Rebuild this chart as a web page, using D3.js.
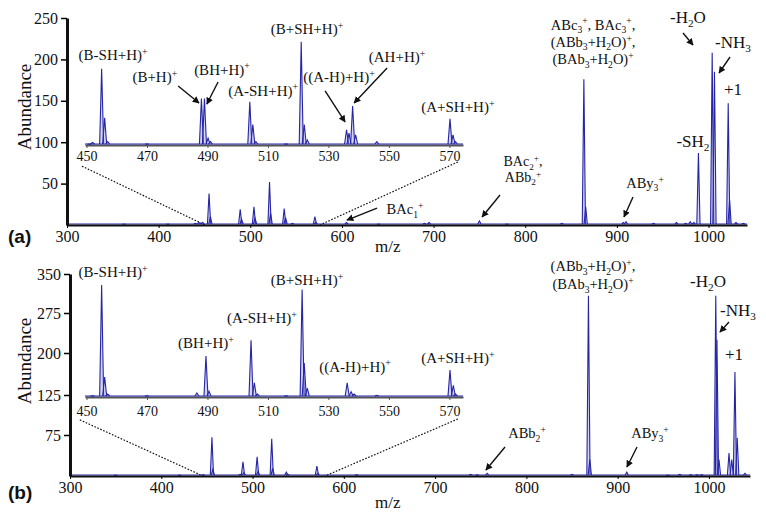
<!DOCTYPE html>
<html>
<head>
<meta charset="utf-8">
<script src="https://cdn.jsdelivr.net/npm/d3@7"></script>
<style>
  body { margin: 0; background: #fff; }
  svg text { font-family: "Liberation Serif", "DejaVu Serif", "Times New Roman", Times, serif; fill: #111; }
  svg text.tag { font-family: "Liberation Sans", Arial, sans-serif; font-weight: bold; }
</style>
</head>
<body>
<svg id="chart" width="766" height="517"></svg>
<script>
// ---------- data ----------
const xTicks = [300, 400, 500, 600, 700, 800, 900, 1000];
const insetTicks = [450, 470, 490, 510, 530, 550, 570];
const yTicksA = [50, 100, 150, 200, 250];
const yTicksB = [75, 125, 200, 275, 350];

// (a) full spectrum peaks: m/z, abundance
const mzA = [362, 410, 440, 444, 448, 455, 456.5, 489, 490.5, 504, 505.2, 521, 522.2, 537, 538.5, 546,
  570.5, 571.5, 605, 640, 690, 695, 750, 780, 840, 864, 866, 907, 910, 940, 965, 975, 980, 984,
  989, 1004, 1006.5, 1021.5, 1023, 1030, 1038];
const abA = [1, 1, 2, 3, 3, 38, 10, 19, 7, 22, 8, 52, 14, 20, 9, 2,
  10, 3, 3, 1, 2, 3, 5, 1, 2, 176, 22, 3, 4, 2, 3, 2, 4, 3,
  87, 208, 185, 147, 30, 3, 2];

// (a) inset 450-575
const insetMzA = [451, 452, 455, 456, 457, 470, 488, 489, 490.2, 491, 504, 505, 506, 516, 521, 522, 523,
  536, 536.8, 538, 539, 546, 570.2, 571.2, 572];
const insetAbA = [101, 103, 190, 132, 104, 101, 155, 155, 108, 104, 151, 124, 104, 101, 222, 124, 106,
  118, 114, 146, 112, 104, 131, 112, 104];

// (b) full spectrum peaks
const mzB = [350, 420, 446, 455.5, 456.5, 486.5, 489.5, 490.5, 505, 506, 521, 522, 537, 538.5, 570.5, 571.5,
  614, 739, 746, 757, 850, 868, 869.5, 910, 955, 968, 980, 987, 992, 1007.5, 1008.8, 1011,
  1022, 1025, 1028.5, 1031, 1039.5];
const abB = [1, 1, 2, 71, 12, 3, 26, 6, 35, 8, 68, 14, 7, 3, 18, 5,
  2, 3, 2, 5, 3, 308, 30, 7, 1, 3, 2, 2, 2, 308, 225, 30,
  42, 30, 166, 70, 5];

// (b) inset
const insetMzB = [452, 455, 456, 457, 470, 486.5, 489.5, 490.5, 504.4, 505.5, 506.5, 516, 521.3, 522, 523,
  536.2, 537.5, 538.5, 546, 570.2, 571.3, 572];
const insetAbB = [127, 329, 159, 130, 127, 132, 195, 135, 224, 149, 130, 127, 320, 183, 140,
  149, 134, 130, 128, 171, 145, 130];

// annotations (m/z, abundance)
const labelsA = [
  { t: "ABc_{3}^{+}, BAc_{3}^{+},", m: 874, v: 236, s: 14.5 },
  { t: "(ABb_{3}+H_{2}O)^{+},", m: 874, v: 215, s: 14.5 },
  { t: "(BAb_{3}+H_{2}O)^{+}", m: 874, v: 194, s: 14.5 },
  { t: "-H_{2}O", m: 977.6, v: 244, s: 17 },
  { t: "-NH_{3}", m: 1026.7, v: 214, s: 17 },
  { t: "+1", m: 1026.7, v: 157, s: 17 },
  { t: "-SH_{2}", m: 983, v: 94, s: 17 },
  { t: "BAc_{2}^{+},", m: 797.6, v: 71, s: 14 },
  { t: "ABb_{2}^{+}", m: 797.6, v: 52, s: 14 },
  { t: "ABy_{3}^{+}", m: 930.7, v: 45, s: 14.5 },
  { t: "BAc_{1}^{+}", m: 668.8, v: 13, s: 14.5 }
];
const arrowsA = [[972.2, 231.9, 983.1, 217.4], [1023.5, 202.9, 1011.5, 183.6],
  [772.5, 36.2, 752.9, 9.7], [917.6, 33.8, 907.8, 9.7], [638.3, 20.5, 605.5, 6]];
const insetLabelsA = [
  { t: "(B-SH+H)^{+}", m: 458.8, v: 200 },
  { t: "(B+H)^{+}", m: 472.6, v: 174 },
  { t: "(BH+H)^{+}", m: 494.8, v: 183 },
  { t: "(A-SH+H)^{+}", m: 508.4, v: 158 },
  { t: "(B+SH+H)^{+}", m: 522.9, v: 231 },
  { t: "((A-H)+H)^{+}", m: 533.5, v: 174 },
  { t: "(AH+H)^{+}", m: 552.7, v: 198 },
  { t: "(A+SH+H)^{+}", m: 572.8, v: 139 }
];
const insetArrowsA = [[480.3, 169.7, 487.2, 149.6], [493.5, 174.4, 489.8, 148.4],
  [528.9, 163.8, 535.5, 127.2], [549.4, 190.9, 538.5, 149.6]];

const labelsB = [
  { t: "(ABb_{3}+H_{2}O)^{+},", m: 873, v: 355, s: 14.5 },
  { t: "(BAb_{3}+H_{2}O)^{+}", m: 873, v: 321, s: 14.5 },
  { t: "-H_{2}O", m: 999, v: 325, s: 17 },
  { t: "-NH_{3}", m: 1031.8, v: 269, s: 17 },
  { t: "+1", m: 1027.4, v: 187, s: 17 },
  { t: "ABb_{2}^{+}", m: 800.7, v: 69, s: 14.5 },
  { t: "ABy_{3}^{+}", m: 935.4, v: 69, s: 14.5 }
];
const arrowsB = [[1022, 258, 1012.1, 239.4], [776.6, 53, 755.7, 11], [921.2, 53, 910.2, 16.5]];
const insetLabelsB = [
  { t: "(B-SH+H)^{+}", m: 458.8, v: 344 },
  { t: "(BH+H)^{+}", m: 489.5, v: 209 },
  { t: "(A-SH+H)^{+}", m: 508, v: 256 },
  { t: "(B+SH+H)^{+}", m: 522.9, v: 329 },
  { t: "((A-H)+H)^{+}", m: 538.8, v: 168 },
  { t: "(A+SH+H)^{+}", m: 572.8, v: 183 }
];

// zoom guide lines: inset point -> main axis point
const guidesA = [[448.5, 75, 450.6, 0], [572.8, 80, 576, 0]];
const guidesB = [[447.8, 86, 445.7, 0], [572.8, 87.5, 579.4, 0]];

// ---------- drawing ----------
const svg = d3.select("#chart");
const blue = "#2525a6";

svg.append("defs").append("marker")
  .attr("id", "arrowhead")
  .attr("viewBox", "0 -5 10 10")
  .attr("refX", 9).attr("refY", 0)
  .attr("markerWidth", 7).attr("markerHeight", 7)
  .attr("markerUnits", "userSpaceOnUse")
  .attr("orient", "auto")
  .append("path")
  .attr("d", "M0,-5L10,0L0,5Z")
  .attr("fill", "#111");

// text with _{sub} and ^{sup}
function rich(g, str, x, y, size) {
  const t = g.append("text").attr("x", x).attr("y", y)
    .attr("font-size", size).attr("text-anchor", "middle");
  const re = /([_^])\{([^}]*)\}|([^_^]+)/g;
  let m, cur = 0;
  while ((m = re.exec(str))) {
    let off = 0, fs = size, txt = m[3];
    if (m[1]) {
      txt = m[2];
      fs = size * 0.66;
      off = m[1] === "^" ? -size * 0.36 : size * 0.24;
    }
    t.append("tspan").attr("dy", off - cur).attr("font-size", fs).text(txt);
    cur = off;
  }
  return t;
}

function peaks(parent, x, y, mz, ab, base, hw) {
  const g = parent.append("g");
  const pk = mz.map((m, i) => ({ m: m, v: ab[i] }));
  g.append("line")
    .attr("x1", x.range()[0]).attr("x2", x.range()[1])
    .attr("y1", y(base) - 1).attr("y2", y(base) - 1)
    .attr("stroke", blue).attr("stroke-width", 1);
  g.selectAll("path").data(pk).enter().append("path")
    .attr("d", d => "M" + (x(d.m) - hw) + "," + (y(base) - 1) + "L" + x(d.m) + "," + y(d.v) +
      "L" + (x(d.m) + hw) + "," + (y(base) - 1))
    .attr("fill", "#6f6fd0").attr("fill-opacity", 0.3)
    .attr("stroke", blue).attr("stroke-width", 1.1);
}

function panel(cfg) {
  const g = svg.append("g");
  const x = cfg.x, y = cfg.y, xi = cfg.xi, yi = cfg.yi;

  // guides
  g.selectAll("line.guide").data(cfg.guides).enter().append("line")
    .attr("class", "guide")
    .attr("x1", d => xi(d[0])).attr("y1", d => yi(d[1]))
    .attr("x2", d => x(d[2])).attr("y2", d => y(d[3]))
    .attr("stroke", "#111").attr("stroke-width", 1.2)
    .attr("stroke-dasharray", "1.6,1.6");

  // main spectrum
  peaks(g, x, y, cfg.mz, cfg.ab, 0, 1.6);

  // inset axis + spectrum
  const ia = g.append("g")
    .attr("transform", "translate(0," + yi(cfg.insetBase) + ")")
    .call(d3.axisBottom(xi).tickValues(insetTicks).tickSize(3).tickSizeOuter(0).tickPadding(cfg.insetPad));
  ia.attr("font-family", null).attr("font-size", null);
  ia.select(".domain").attr("stroke", "#555").attr("stroke-width", 1.8);
  ia.selectAll(".tick line").attr("stroke", "#555");
  ia.selectAll("text").attr("font-size", 14);
  peaks(g, xi, yi, cfg.imz, cfg.iab, cfg.insetBase, 2);

  // main axes
  const xa = g.append("g")
    .attr("transform", "translate(0," + y(0) + ")")
    .call(d3.axisBottom(x).tickValues(xTicks).tickFormat(d3.format("d"))
      .tickSize(3).tickSizeOuter(0).tickPadding(3));
  xa.attr("font-family", null).attr("font-size", null);
  xa.select(".domain").attr("stroke", "#111").attr("stroke-width", 2);
  xa.selectAll("text").attr("font-size", 16);

  const ya = g.append("g")
    .attr("transform", "translate(" + x.range()[0] + ",0)")
    .call(d3.axisLeft(y).tickValues(cfg.yTicks).tickSize(6).tickSizeOuter(0).tickPadding(3));
  ya.attr("font-family", null).attr("font-size", null);
  ya.select(".domain").attr("stroke", "#111").attr("stroke-width", 3);
  ya.selectAll(".tick line").attr("stroke-width", 1.5);
  ya.selectAll("text").attr("font-size", 16);

  // annotations
  cfg.labels.forEach(d => rich(g, d.t, x(d.m), y(d.v), d.s));
  cfg.insetLabels.forEach(d => rich(g, d.t, xi(d.m), yi(d.v), 15));
  const arr = cfg.arrows.map(d => [x(d[0]), y(d[1]), x(d[2]), y(d[3])])
    .concat(cfg.insetArrows.map(d => [xi(d[0]), yi(d[1]), xi(d[2]), yi(d[3])]));
  g.selectAll("line.arrow").data(arr).enter().append("line")
    .attr("class", "arrow")
    .attr("x1", d => d[0]).attr("y1", d => d[1])
    .attr("x2", d => d[2]).attr("y2", d => d[3])
    .attr("stroke", "#111").attr("stroke-width", 1.4)
    .attr("marker-end", "url(#arrowhead)");

  // titles
  g.append("text")
    .attr("transform", "translate(31," + cfg.ylabelY + ") rotate(-90)")
    .attr("text-anchor", "middle").attr("font-size", 19)
    .text("Abundance");
  g.append("text").attr("x", 375).attr("y", cfg.mzY).attr("font-size", 17).text("m/z");
  g.append("text").attr("class", "tag").attr("x", 8).attr("y", cfg.tagY)
    .attr("font-size", 19).text(cfg.tag);
}

panel({
  x: d3.scaleLinear().domain([300, 1042]).range([67, 747]),
  y: d3.scaleLinear().domain([0, 250]).range([225, 18]),
  xi: d3.scaleLinear().domain([449.5, 574.5]).range([85, 463]),
  yi: d3.scaleLinear().domain([100, 250]).range([145, 18]),
  insetBase: 100, insetPad: 3,
  yTicks: yTicksA,
  mz: mzA, ab: abA, imz: insetMzA, iab: insetAbA,
  labels: labelsA, arrows: arrowsA, insetLabels: insetLabelsA, insetArrows: insetArrowsA,
  guides: guidesA,
  ylabelY: 107, mzY: 252, tagY: 243, tag: "(a)"
});

panel({
  x: d3.scaleLinear().domain([300, 1045]).range([70, 750]),
  y: d3.scaleLinear().domain([0, 75, 125, 200, 275, 350]).range([476, 435, 395, 353, 313, 274]),
  xi: d3.scaleLinear().domain([449.5, 574.5]).range([85, 463]),
  yi: d3.scaleLinear().domain([125, 200, 275, 350]).range([397, 353, 313, 274]),
  insetBase: 125, insetPad: 6,
  yTicks: yTicksB,
  mz: mzB, ab: abB, imz: insetMzB, iab: insetAbB,
  labels: labelsB, arrows: arrowsB, insetLabels: insetLabelsB, insetArrows: [],
  guides: guidesB,
  ylabelY: 361, mzY: 508, tagY: 499, tag: "(b)"
});
</script>
</body>
</html>
